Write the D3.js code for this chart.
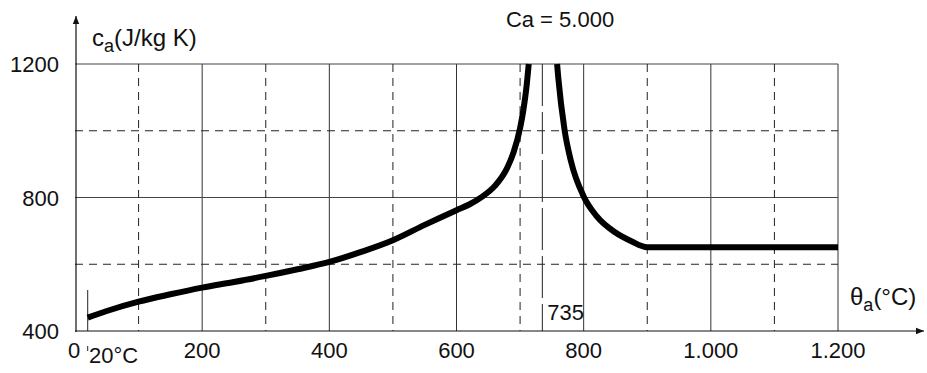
<!DOCTYPE html>
<html>
<head>
<meta charset="utf-8">
<script src="https://cdn.jsdelivr.net/npm/d3@7"></script>
<style>
  html, body { margin: 0; padding: 0; background: #fff; }
  svg text { font-family: "Liberation Sans", Arial, sans-serif; fill: #111; }
</style>
</head>
<body>
<svg id="chart" width="927" height="373"></svg>
<script>
// Specific heat of carbon steel vs. temperature
const tempC = [20, 50, 100, 150, 200, 250, 300, 350, 400, 450, 500, 550, 600,
               620, 640, 660, 680, 690, 700, 705, 710, 713.6,
               758.2, 760, 770, 780, 800, 820, 850, 875, 900, 1000, 1100, 1200];
const heatJkgK = [440, 460, 488, 510, 530, 547, 565, 585, 607, 637, 672, 718, 762,
                  779, 802, 834, 890, 937, 1008, 1060, 1130, 1200,
                  1200, 1160, 1002, 909, 803, 745, 695, 669, 651, 651, 651, 651];
// The curve is split at the 735 °C peak (which rises to 5.000)
const breakIndex = 22;

const xTicks = [0, 200, 400, 600, 800, 1000, 1200];
const xTickLabels = ["0", "200", "400", "600", "800", "1.000", "1.200"];
const xMinor = [100, 300, 500, 700, 900, 1100];
const yTicks = [400, 800, 1200];
const yMinor = [600, 1000];
const peakTemp = 735;

const svg = d3.select("#chart");
const x = d3.scaleLinear().domain([0, 1200]).range([75, 838]);
const y = d3.scaleLinear().domain([400, 1200]).range([331, 64]);

svg.append("defs").append("marker")
  .attr("id", "arrow").attr("viewBox", "0 0 10 10")
  .attr("refX", 10).attr("refY", 5)
  .attr("markerWidth", 12).attr("markerHeight", 8)
  .attr("markerUnits", "userSpaceOnUse")
  .attr("orient", "auto")
  .append("path").attr("d", "M0,1 L10,5 L0,9 Z").attr("fill", "#111");

const grid = svg.append("g");
// solid grid lines
grid.selectAll(".vmaj").data(xTicks.filter(d => d > 0)).join("line")
  .attr("x1", d => x(d)).attr("x2", d => x(d))
  .attr("y1", y(1200)).attr("y2", y(400))
  .attr("stroke", "#333").attr("stroke-width", 1);
grid.selectAll(".hmaj").data(yTicks.filter(d => d > 400)).join("line")
  .attr("x1", x(0)).attr("x2", x(1200))
  .attr("y1", d => y(d)).attr("y2", d => y(d))
  .attr("stroke", "#444").attr("stroke-width", 1);
// dashed grid lines
grid.selectAll(".vmin").data(xMinor).join("line")
  .attr("x1", d => x(d)).attr("x2", d => x(d))
  .attr("y1", y(1200)).attr("y2", y(400))
  .attr("stroke", "#222").attr("stroke-width", 1)
  .attr("stroke-dasharray", "8,6");
grid.selectAll(".hmin").data(yMinor).join("line")
  .attr("x1", x(0)).attr("x2", x(1200))
  .attr("y1", d => y(d)).attr("y2", d => y(d))
  .attr("stroke", "#222").attr("stroke-width", 1)
  .attr("stroke-dasharray", "8,6");
// 735 °C marker
grid.append("line")
  .attr("x1", x(peakTemp)).attr("x2", x(peakTemp))
  .attr("y1", y(1200)).attr("y2", y(400))
  .attr("stroke", "#222").attr("stroke-width", 1)
  .attr("stroke-dasharray", "42,6");
// 20 °C marker
grid.append("line")
  .attr("x1", x(20)).attr("x2", x(20))
  .attr("y1", 290).attr("y2", y(400))
  .attr("stroke", "#222").attr("stroke-width", 1);
grid.append("line")
  .attr("x1", x(20)).attr("x2", x(20))
  .attr("y1", 346).attr("y2", 351)
  .attr("stroke", "#222").attr("stroke-width", 1);

// axes with arrows
svg.append("line")
  .attr("x1", x(0) + 1).attr("x2", x(0) + 1)
  .attr("y1", y(400) + 1).attr("y2", 16)
  .attr("stroke", "#111").attr("stroke-width", 1.2)
  .attr("marker-end", "url(#arrow)");
svg.append("line")
  .attr("x1", x(0)).attr("x2", 924)
  .attr("y1", y(400)).attr("y2", y(400))
  .attr("stroke", "#111").attr("stroke-width", 1.2)
  .attr("marker-end", "url(#arrow)");

// curve
const pts = tempC.map((t, i) => [t, heatJkgK[i]]);
const line = d3.line().x(d => x(d[0])).y(d => y(d[1])).curve(d3.curveMonotoneX);
[pts.slice(0, breakIndex), pts.slice(breakIndex)].forEach(seg => {
  svg.append("path").attr("d", line(seg))
    .attr("fill", "none").attr("stroke", "#000")
    .attr("stroke-width", 6).attr("stroke-linejoin", "round");
});

// tick labels
svg.selectAll(".ylab").data(yTicks).join("text")
  .attr("x", 59).attr("y", d => y(d) + 8)
  .attr("text-anchor", "end").attr("font-size", 22)
  .text(d => d);
svg.selectAll(".xlab").data(xTicks).join("text")
  .attr("x", d => d === 0 ? x(d) - 1 : x(d)).attr("y", 358)
  .attr("text-anchor", "middle").attr("font-size", 22)
  .text((d, i) => xTickLabels[i]);
svg.append("text").attr("x", 89).attr("y", 363)
  .attr("font-size", 22).text("20°C");

// axis titles
const yt = svg.append("text").attr("x", 92).attr("y", 46).attr("font-size", 24);
yt.append("tspan").text("c");
yt.append("tspan").attr("font-size", 18).attr("dy", 6).text("a");
yt.append("tspan").attr("dy", -6).text("(J/kg K)");

const xt = svg.append("text").attr("x", 850).attr("y", 305).attr("font-size", 24);
xt.append("tspan").text("θ");
xt.append("tspan").attr("font-size", 18).attr("dy", 6).text("a");
xt.append("tspan").attr("dy", -6).text("(°C)");

svg.append("text").attr("x", x(peakTemp) + 5).attr("y", 320)
  .attr("font-size", 22).text("735");
svg.append("text").attr("x", 560).attr("y", 27)
  .attr("text-anchor", "middle").attr("font-size", 22).text("Ca = 5.000");
</script>
</body>
</html>
